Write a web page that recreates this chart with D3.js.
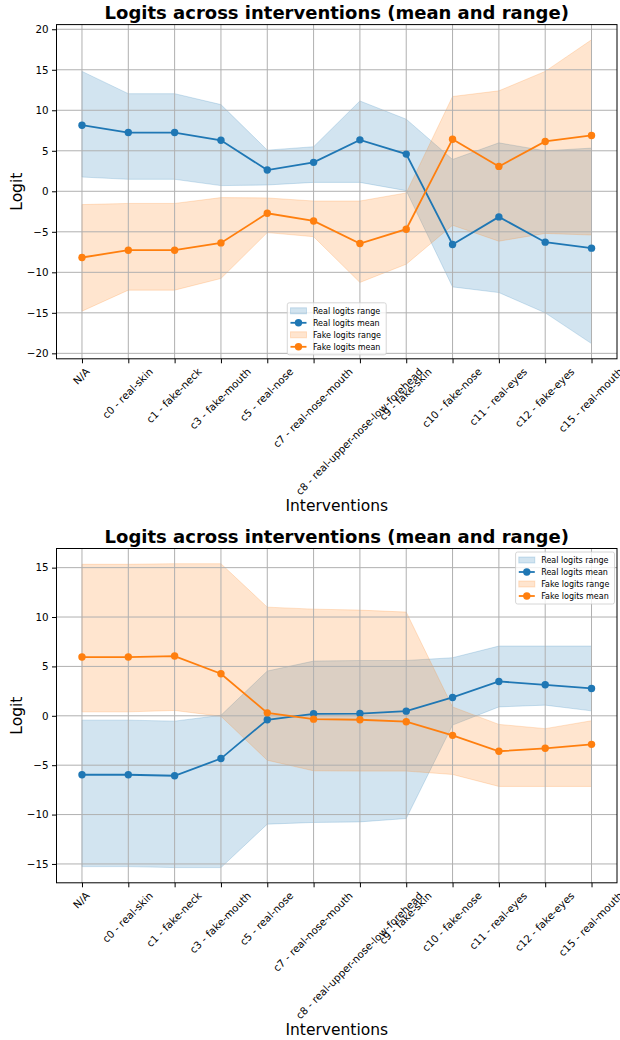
<!DOCTYPE html>
<html><head><meta charset="utf-8">
<script src="https://cdn.jsdelivr.net/npm/d3@7"></script>
<style>body{margin:0;background:#fff}svg{display:block}text{font-family:"DejaVu Sans",sans-serif}</style>
</head><body><svg id="c" width="620" height="1040"></svg>
<script>
const categories = ["N/A","c0 - real-skin","c1 - fake-neck","c3 - fake-mouth","c5 - real-nose","c7 - real-nose-mouth","c8 - real-upper-nose-low-forehead","c9 - fake-skin","c10 - fake-nose","c11 - real-eyes","c12 - fake-eyes","c15 - real-mouth"];

// Chart A (top)
const realMeanA = [8.16, 7.25, 7.25, 6.3, 2.62, 3.57, 6.35, 4.59, -6.57, -3.16, -6.28, -7.02];
const realMaxA  = [14.8, 12.05, 12.05, 10.7, 5.08, 5.5, 11.15, 8.9, 3.93, 5.98, 5.0, 5.33];
const realMinA  = [1.76, 1.48, 1.48, 0.7, 0.78, 1.1, 1.1, 0.08, -11.8, -12.5, -15.0, -18.8];
const fakeMeanA = [-8.17, -7.27, -7.27, -6.37, -2.71, -3.66, -6.45, -4.68, 6.43, 3.07, 6.15, 6.89];
const fakeMaxA  = [-1.64, -1.5, -1.5, -0.78, -0.82, -1.2, -1.2, -0.2, 11.7, 12.4, 14.8, 18.7];
const fakeMinA  = [-14.8, -12.2, -12.2, -10.76, -5.1, -5.6, -11.25, -9.0, -4.19, -6.16, -5.2, -5.4];
const yTicksA = [-20, -15, -10, -5, 0, 5, 10, 15, 20];

// Chart B (bottom)
const realMeanB = [-5.97, -5.97, -6.07, -4.33, -0.4, 0.2, 0.23, 0.47, 1.86, 3.48, 3.14, 2.77];
const realMaxB  = [-0.44, -0.44, -0.54, 0.05, 4.53, 5.54, 5.6, 5.6, 5.88, 7.06, 7.06, 7.06];
const realMinB  = [-15.27, -15.27, -15.37, -15.37, -10.97, -10.8, -10.74, -10.4, -0.94, 0.9, 1.08, 0.5];
const fakeMeanB = [5.95, 5.95, 6.05, 4.26, 0.3, -0.34, -0.4, -0.6, -1.98, -3.59, -3.29, -2.89];
const fakeMaxB  = [15.34, 15.34, 15.4, 15.4, 11.0, 10.8, 10.7, 10.5, 0.9, -0.87, -1.3, -0.5];
const fakeMinB  = [0.4, 0.4, 0.54, -0.05, -4.5, -5.57, -5.6, -5.6, -5.94, -7.15, -7.15, -7.15];
const yTicksB = [-15, -10, -5, 0, 5, 10, 15];

const titleText = "Logits across interventions (mean and range)";
const legendLabels = ["Real logits range","Real logits mean","Fake logits range","Fake logits mean"];
const BLUE = "#1f77b4", ORANGE = "#ff7f0e";

const svg = d3.select("#c");
const fmt = v => (v < 0 ? "\u2212" + Math.abs(v) : String(v));

function drawChart(cfg) {
  const {top, bottom, left, right, realMean, realMin, realMax, fakeMean, fakeMin, fakeMax, yTicks, legendPos} = cfg;
  const g = svg.append("g");
  const x = d3.scalePoint().domain(categories).range([left, right]).padding(0.55);
  const all = [].concat(realMin, realMax, fakeMin, fakeMax, realMean, fakeMean);
  const [lo, hi] = d3.extent(all);
  const m = (hi - lo) * 0.05;
  const y = d3.scaleLinear().domain([lo - m, hi + m]).range([bottom, top]);

  // fills
  const area = (mn, mx) => d3.area().x((d, i) => x(categories[i])).y0((d, i) => y(mn[i])).y1((d, i) => y(mx[i]))(categories);
  g.append("path").attr("d", area(realMin, realMax)).attr("fill", BLUE).attr("fill-opacity", 0.2)
    .attr("stroke", BLUE).attr("stroke-opacity", 0.2).attr("stroke-width", 1);
  g.append("path").attr("d", area(fakeMin, fakeMax)).attr("fill", ORANGE).attr("fill-opacity", 0.2)
    .attr("stroke", ORANGE).attr("stroke-opacity", 0.2).attr("stroke-width", 1);

  // grid
  g.append("g").selectAll("line").data(categories).join("line")
    .attr("x1", d => x(d)).attr("x2", d => x(d)).attr("y1", top).attr("y2", bottom)
    .attr("stroke", "#b0b0b0").attr("stroke-width", 1);
  g.append("g").selectAll("line").data(yTicks).join("line")
    .attr("x1", left).attr("x2", right).attr("y1", d => y(d)).attr("y2", d => y(d))
    .attr("stroke", "#b0b0b0").attr("stroke-width", 1);

  // lines
  const line = vals => d3.line().x((d, i) => x(categories[i])).y((d, i) => y(vals[i]))(categories);
  [[realMean, BLUE], [fakeMean, ORANGE]].forEach(([vals, col]) => {
    g.append("path").attr("d", line(vals)).attr("fill", "none").attr("stroke", col).attr("stroke-width", 1.8);
    g.append("g").selectAll("circle").data(vals).join("circle")
      .attr("cx", (d, i) => x(categories[i])).attr("cy", d => y(d)).attr("r", 3.7).attr("fill", col);
  });

  // spines
  g.append("rect").attr("x", left).attr("y", top).attr("width", right - left).attr("height", bottom - top)
    .attr("fill", "none").attr("stroke", "#000").attr("stroke-width", 1);

  // y axis
  const ya = g.append("g").attr("transform", `translate(${left},0)`)
    .call(d3.axisLeft(y).tickValues(yTicks).tickFormat(fmt).tickSize(4.5).tickPadding(3.5));
  ya.select(".domain").remove();
  ya.selectAll("line").attr("stroke", "#000").attr("stroke-width", 1);
  ya.selectAll("text").attr("font-size", 10.3).attr("fill", "#000").style("font-family", '"DejaVu Sans"');

  // x axis ticks
  const xa = g.append("g").attr("transform", `translate(0,${bottom})`)
    .call(d3.axisBottom(x).tickSize(4.5).tickFormat(""));
  xa.select(".domain").remove();
  xa.selectAll("line").attr("stroke", "#000").attr("stroke-width", 1);

  // rotated x labels (rotation 45, centred on the tick, top-aligned)
  const fs = 10.3, asc = fs * 0.76, desc = fs * 0.24, c = Math.SQRT1_2;
  const labTop = bottom + 4.5 + 3.5;
  categories.forEach(cat => {
    const t = g.append("text").text(cat).attr("font-size", fs).attr("text-anchor", "end").attr("fill", "#000");
    const w = t.node().getComputedTextLength();
    const ax = x(cat) + (w + asc - desc) * c / 2;
    const ay = labTop + asc * c;
    t.attr("transform", `translate(${ax},${ay}) rotate(-45)`);
  });

  // title and axis labels
  const cx = (left + right) / 2;
  g.append("text").text(titleText).attr("x", cx).attr("y", top - 6).attr("text-anchor", "middle")
    .attr("font-size", 18).attr("font-weight", "bold").attr("fill", "#000");
  g.append("text").text("Interventions").attr("x", cx).attr("y", cfg.xlabelY).attr("text-anchor", "middle")
    .attr("font-size", 15.5).attr("fill", "#000");
  g.append("text").text("Logit").attr("transform", `translate(22,${(top + bottom) / 2}) rotate(-90)`)
    .attr("text-anchor", "middle").attr("font-size", 15.5).attr("fill", "#000");

  // legend
  const lf = 8, rowH = 12, handleLen = 16;
  const lg = g.append("g");
  const tmp = lg.append("g");
  let maxW = 0;
  legendLabels.forEach(l => {
    const t = tmp.append("text").text(l).attr("font-size", lf);
    maxW = Math.max(maxW, t.node().getComputedTextLength());
  });
  tmp.remove();
  const bw = 3.2 * 2 + handleLen + 6.4 + maxW + 2;
  const bh = rowH * 4 + 4;
  let bx, by;
  if (legendPos === "lower center") { bx = cx - bw / 2; by = bottom - 4 - bh; }
  else { bx = right - 2.5 - bw; by = top + 3.5; }
  lg.append("rect").attr("x", bx).attr("y", by).attr("width", bw).attr("height", bh).attr("rx", 2)
    .attr("fill", "#fff").attr("fill-opacity", 0.8).attr("stroke", "#cccccc").attr("stroke-width", 0.8);
  const items = [["patch", BLUE], ["line", BLUE], ["patch", ORANGE], ["line", ORANGE]];
  items.forEach(([kind, col], i) => {
    const ry = by + 2 + rowH * i + rowH / 2 + 0.5;
    const hx = bx + 3.2;
    if (kind === "patch") {
      lg.append("rect").attr("x", hx).attr("y", ry - 3.5).attr("width", handleLen).attr("height", 6)
        .attr("fill", col).attr("fill-opacity", 0.2).attr("stroke", col).attr("stroke-opacity", 0.2).attr("stroke-width", 1);
    } else {
      lg.append("line").attr("x1", hx).attr("x2", hx + handleLen).attr("y1", ry - 0.5).attr("y2", ry - 0.5)
        .attr("stroke", col).attr("stroke-width", 1.8);
      lg.append("circle").attr("cx", hx + handleLen / 2).attr("cy", ry - 0.5).attr("r", 3.7).attr("fill", col);
    }
    lg.append("text").text(legendLabels[i]).attr("x", hx + handleLen + 6.4).attr("y", ry + 2.5)
      .attr("font-size", lf).attr("fill", "#000");
  });
}

drawChart({top: 24.6, bottom: 358.8, left: 56.5, right: 617, xlabelY: 511,
  realMean: realMeanA, realMin: realMinA, realMax: realMaxA,
  fakeMean: fakeMeanA, fakeMin: fakeMinA, fakeMax: fakeMaxA, yTicks: yTicksA, legendPos: "lower center"});
drawChart({top: 548.5, bottom: 882.8, left: 56.5, right: 617, xlabelY: 1035,
  realMean: realMeanB, realMin: realMinB, realMax: realMaxB,
  fakeMean: fakeMeanB, fakeMin: fakeMinB, fakeMax: fakeMaxB, yTicks: yTicksB, legendPos: "upper right"});
</script></body></html>
